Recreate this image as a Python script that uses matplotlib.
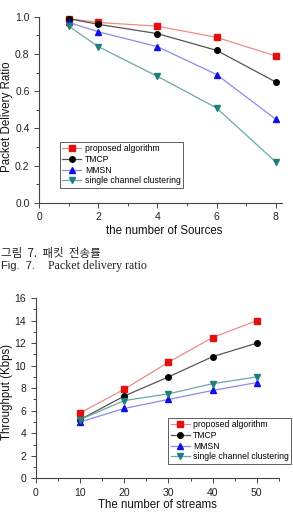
import matplotlib
matplotlib.use("Agg")
import matplotlib.pyplot as plt
from matplotlib.ticker import MultipleLocator

# --- data ---
labels = ["proposed algorithm", "TMCP", "MMSN", "single channel clustering"]

sources = [1, 2, 4, 6, 8]
pdr_proposed = [0.99, 0.97, 0.95, 0.89, 0.79]
pdr_tmcp = [0.99, 0.96, 0.91, 0.82, 0.65]
pdr_mmsn = [0.97, 0.92, 0.84, 0.69, 0.45]
pdr_single = [0.95, 0.84, 0.68, 0.51, 0.22]

streams = [10, 20, 30, 40, 50]
thr_proposed = [5.8, 7.9, 10.3, 12.5, 14.0]
thr_tmcp = [5.2, 7.3, 9.0, 10.8, 12.0]
thr_mmsn = [5.0, 6.2, 7.0, 7.8, 8.5]
thr_single = [5.2, 6.9, 7.5, 8.4, 9.0]

markers = ["s", "o", "^", "v"]
marker_colors = ["#e41010", "#000000", "#1010e0", "#1f7f7f"]
line_colors = ["#f08a8a", "#555555", "#8a8af0", "#6aa8a8"]

plt.rcParams["font.family"] = ["Liberation Sans", "DejaVu Sans"]

W, H = 293, 512
fig = plt.figure(figsize=(W / 100, H / 100), dpi=100)


def style_axes(ax):
    for side in ["top", "right"]:
        ax.spines[side].set_visible(False)
    for side in ["left", "bottom"]:
        ax.spines[side].set_color("#444444")
        ax.spines[side].set_linewidth(0.8)
    ax.tick_params(which="both", direction="out", colors="#444444",
                   labelcolor="#222222", labelsize=7.5, width=0.7)
    ax.tick_params(which="major", length=3.5)
    ax.tick_params(which="minor", length=2)


def draw(ax, x, series):
    for y, lab, m, mc, lc in zip(series, labels, markers, marker_colors, line_colors):
        ax.plot(x, y, color=lc, lw=0.9, marker=m, markersize=4,
                markerfacecolor=mc, markeredgecolor=mc, label=lab, clip_on=False)


def add_legend(ax, anchor):
    leg = ax.legend(loc="lower left", bbox_to_anchor=anchor, fontsize=6.2,
                    frameon=True, fancybox=False, handlelength=2.2,
                    borderpad=0.3, labelspacing=0.2, handletextpad=0.4,
                    borderaxespad=0)
    leg.get_frame().set_edgecolor("#333333")
    leg.get_frame().set_linewidth(0.7)


# --- Fig. 7: packet delivery ratio ---
ax1 = fig.add_axes([0.134, 0.604, 0.827, 0.363])
draw(ax1, sources, [pdr_proposed, pdr_tmcp, pdr_mmsn, pdr_single])
ax1.set_xlim(0, 8.2)
ax1.set_ylim(0, 1.0)
ax1.xaxis.set_major_locator(MultipleLocator(2))
ax1.xaxis.set_minor_locator(MultipleLocator(1))
ax1.yaxis.set_major_locator(MultipleLocator(0.2))
ax1.yaxis.set_minor_locator(MultipleLocator(0.1))
style_axes(ax1)
add_legend(ax1, (0.085, 0.079))

fig.text(164 / W, 1 - 231 / H, "the number of Sources", fontsize=8.3,
         ha="center", va="center", color="#111111")
fig.text(7 / W, 1 - 116.5 / H, "Packet Delivery Ratio", fontsize=8.3,
         rotation=90, ha="center", va="center", color="#111111")

fig.text(0.005, 1 - 254 / H, "그림  7.  패킷  전송률", fontsize=8.3,
         family=["Noto Sans CJK KR", "DejaVu Sans"], va="center", color="#222222")
fig.text(0.005, 1 - 266 / H, "Fig.  7.", fontsize=8, va="center", color="#222222")
fig.text(48 / W, 1 - 266 / H, "Packet delivery ratio", fontsize=8.6,
         family=["Liberation Serif"], va="center", color="#222222")

# --- throughput ---
ax2 = fig.add_axes([0.122, 0.0658, 0.830, 0.352])
draw(ax2, streams, [thr_proposed, thr_tmcp, thr_mmsn, thr_single])
ax2.set_xlim(0, 55)
ax2.set_ylim(0, 16)
ax2.xaxis.set_major_locator(MultipleLocator(10))
ax2.xaxis.set_minor_locator(MultipleLocator(5))
ax2.yaxis.set_major_locator(MultipleLocator(2))
ax2.yaxis.set_minor_locator(MultipleLocator(1))
style_axes(ax2)
add_legend(ax2, (0.544, 0.079))

fig.text(157 / W, 1 - 505 / H, "The number of streams", fontsize=8.3,
         ha="center", va="center", color="#111111")
fig.text(7 / W, 1 - 391.5 / H, "Throughput (Kbps)", fontsize=8.3,
         rotation=90, ha="center", va="center", color="#111111")

fig.savefig("out.png", dpi=100)
